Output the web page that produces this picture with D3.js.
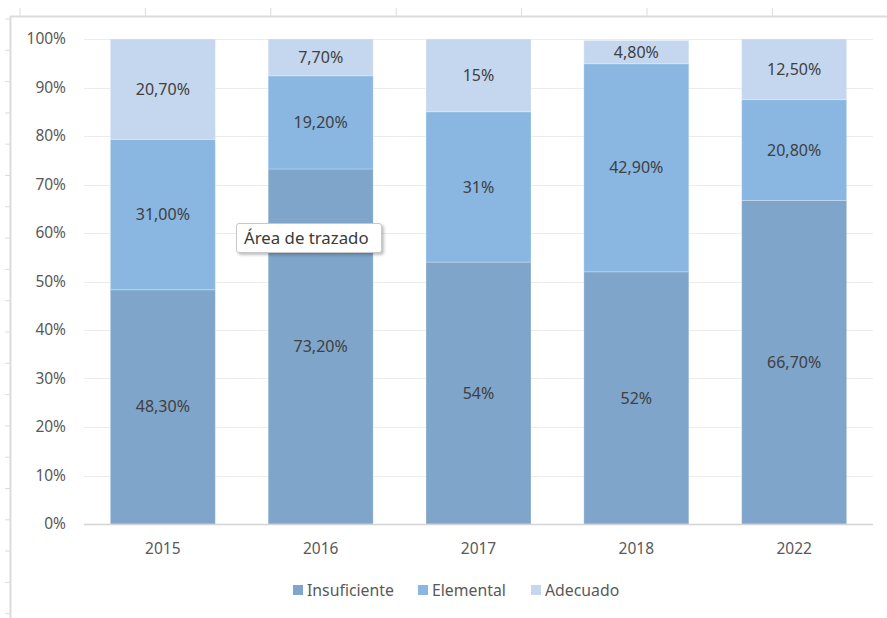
<html lang="es"><head>
<meta charset="utf-8">
<script src="https://d3js.org/d3.v7.min.js"></script>
<style>
  body { margin: 0; background: #fff; font-family: "Noto Sans", sans-serif; }
  .tip {
    position: absolute;
    left: 236px; top: 223px;
    width: 130px;
    padding: 2px 7px 3px 7px;
    background: #fff;
    border: 1px solid #c8c8c8;
    border-radius: 3px;
    box-shadow: 2px 2px 3px rgba(0,0,0,0.25);
    font: 16.8px "Noto Sans", sans-serif;
    color: #3a3a3a;
    white-space: nowrap;
  }
</style>
</head><body>
<div id="chart"></div>
<div class="tip">Área de trazado</div>
<script>
const years = ["2015", "2016", "2017", "2018", "2022"];
const series = ["Insuficiente", "Elemental", "Adecuado"];
const insuficiente = [48.3, 73.2, 54, 52, 66.7];
const elemental = [31.0, 19.2, 31, 42.9, 20.8];
const adecuado = [20.7, 7.7, 15, 4.8, 12.5];
const labelsIns = ["48,30%", "73,20%", "54%", "52%", "66,70%"];
const labelsElem = ["31,00%", "19,20%", "31%", "42,90%", "20,80%"];
const labelsAdec = ["20,70%", "7,70%", "15%", "4,80%", "12,50%"];
const yTicks = [0, 10, 20, 30, 40, 50, 60, 70, 80, 90, 100];

const colors = ["#7fa5cb", "#89b7e2", "#c5d7ee"];
const W = 887, H = 618;

const svg = d3.select("#chart").append("svg")
    .attr("width", W).attr("height", H);

// sheet frame with ruler ticks
const frame = svg.append("g").attr("stroke", "#dcdcdc");
frame.append("line").attr("x1", 10.5).attr("x2", 10.5).attr("y1", 16).attr("y2", H).attr("stroke-width", 2);
frame.append("line").attr("x1", 10).attr("x2", W).attr("y1", 16.5).attr("y2", 16.5).attr("stroke-width", 2);
d3.range(0, 7).forEach(i => {
    const x = 20 + i * 125.4;
    frame.append("line").attr("x1", x).attr("x2", x).attr("y1", 8).attr("y2", 16);
});
d3.range(0, 20).forEach(i => {
    const y = 19 + i * 31.3;
    frame.append("line").attr("x1", 5).attr("x2", 10).attr("y1", y).attr("y2", y);
});

const x = d3.scaleBand().domain(years).range([84, 873]).paddingInner(0.335).paddingOuter(0.167);
const y = d3.scaleLinear().domain([0, 100]).range([524, 39]);

// gridlines
svg.append("g").selectAll("line").data(yTicks.slice(1)).join("line")
    .attr("x1", 84).attr("x2", 873)
    .attr("y1", d => Math.round(y(d)) + 0.5).attr("y2", d => Math.round(y(d)) + 0.5)
    .attr("stroke", "#ececec");

// y axis labels
svg.append("g").selectAll("text").data(yTicks).join("text")
    .attr("x", 66).attr("y", d => y(d)).attr("dy", "0.35em")
    .attr("text-anchor", "end")
    .attr("fill", "#595959").style("font-size", "15.5px")
    .text(d => d + "%");

const rows = years.map((yr, i) => ({
    year: yr,
    Insuficiente: insuficiente[i],
    Elemental: elemental[i],
    Adecuado: adecuado[i]
}));
const stack = d3.stack().keys(series)(rows);
const labelSets = [labelsIns, labelsElem, labelsAdec];

const layers = svg.append("g").selectAll("g").data(stack).join("g")
    .attr("fill", (d, i) => colors[i]);

layers.selectAll("rect").data(d => d).join("rect")
    .attr("x", d => x(d.data.year))
    .attr("width", x.bandwidth())
    .attr("y", d => y(Math.min(100, d[1])))
    .attr("height", d => y(d[0]) - y(Math.min(100, d[1])))
    .attr("stroke", "rgba(255,255,255,0.25)")
    .attr("stroke-width", 1);

// data labels
stack.forEach((layer, li) => {
    svg.append("g").selectAll("text").data(layer).join("text")
        .attr("x", d => x(d.data.year) + x.bandwidth() / 2)
        .attr("y", d => y((d[0] + Math.min(100, d[1])) / 2))
        .attr("dy", "0.35em")
        .attr("text-anchor", "middle")
        .attr("fill", "#404040").style("font-size", "16px")
        .text((d, i) => labelSets[li][i]);
});

// x axis
svg.append("line").attr("x1", 84).attr("x2", 873).attr("y1", 524.5).attr("y2", 524.5)
    .attr("stroke", "#d4d4d4").attr("stroke-width", 1.5);
svg.append("g").selectAll("text").data(years).join("text")
    .attr("x", d => x(d) + x.bandwidth() / 2).attr("y", 549).attr("dy", "0.35em")
    .attr("text-anchor", "middle")
    .attr("fill", "#595959").style("font-size", "15.5px")
    .text(d => d);

// legend
const legendX = [293, 418, 531];
const legend = svg.append("g").selectAll("g").data(series).join("g")
    .attr("transform", (d, i) => `translate(${legendX[i]},590)`);
legend.append("rect").attr("x", 0).attr("y", -5).attr("width", 10).attr("height", 10)
    .attr("fill", (d, i) => colors[i]);
legend.append("text").attr("x", 14).attr("dy", "0.35em")
    .attr("fill", "#595959").style("font-size", "15.8px")
    .text(d => d);
</script>
</body></html>
